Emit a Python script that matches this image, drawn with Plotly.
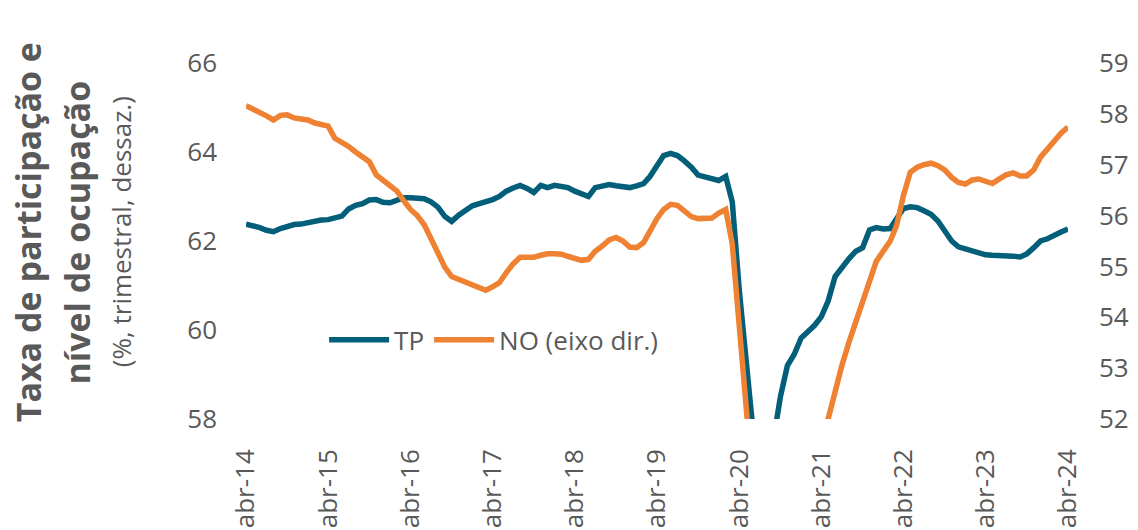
import pandas as pd
import plotly.graph_objects as go

# Monthly observations, Apr-2014 .. Apr-2024 (moving-quarter, seasonally adjusted)
months = pd.date_range("2014-04-01", periods=121, freq="MS")

# Taxa de participação (%), left axis
tp = [
    62.38, 62.35, 62.30, 62.24, 62.21, 62.28, 62.34, 62.37, 62.38, 62.42, 62.45, 62.47,
    62.48, 62.52, 62.56, 62.72, 62.80, 62.84, 62.92, 62.93, 62.87, 62.86, 62.92, 62.97,
    62.97, 62.97, 62.95, 62.88, 62.76, 62.55, 62.44, 62.58, 62.70, 62.79, 62.84, 62.88,
    62.93, 63.00, 63.12, 63.19, 63.25, 63.18, 63.09, 63.25, 63.20, 63.25, 63.22, 63.20,
    63.12, 63.05, 63.00, 63.20, 63.24, 63.27, 63.24, 63.22, 63.20, 63.24, 63.29, 63.45,
    63.72, 63.92, 63.97, 63.92, 63.80, 63.66, 63.48, 63.43, 63.38, 63.36, 63.45, 62.88,
    60.90, 59.05, 57.00, 56.20, 56.60, 57.60, 58.50, 59.20, 59.45, 59.82, 59.97, 60.10,
    60.30, 60.65, 61.20, 61.42, 61.60, 61.77, 61.85, 62.25, 62.30, 62.27, 62.28, 62.50,
    62.73, 62.77, 62.75, 62.68, 62.60, 62.45, 62.22, 62.00, 61.87, 61.82, 61.78, 61.74,
    61.69, 61.68, 61.68, 61.68, 61.66, 61.64, 61.71, 61.85, 62.00, 62.05, 62.14, 62.20,
    62.27,
]

# Nível de ocupação (%), right axis
no = [
    58.16, 58.10, 58.04, 57.96, 57.88, 57.97, 57.98, 57.92, 57.90, 57.88, 57.82, 57.78,
    57.76, 57.52, 57.45, 57.36, 57.25, 57.15, 57.06, 56.80, 56.70, 56.60, 56.48, 56.30,
    56.12, 56.00, 55.82, 55.55, 55.25, 54.98, 54.80, 54.74, 54.68, 54.62, 54.57, 54.53,
    54.60, 54.68, 54.88, 55.05, 55.18, 55.18, 55.18, 55.22, 55.25, 55.25, 55.24, 55.20,
    55.16, 55.12, 55.14, 55.30, 55.40, 55.52, 55.57, 55.50, 55.38, 55.37, 55.47, 55.70,
    55.94, 56.12, 56.22, 56.20, 56.08, 55.98, 55.94, 55.94, 55.95, 56.05, 56.12, 55.44,
    53.15, 51.10, 49.30, 48.00, 47.50, 47.60, 48.20, 48.90, 49.60, 50.30, 50.90, 51.40,
    51.65, 52.00, 52.55, 53.05, 53.50, 53.90, 54.25, 54.70, 55.10, 55.30, 55.50, 55.80,
    56.40, 56.85, 56.95, 57.00, 57.03, 56.98, 56.90, 56.75, 56.65, 56.62, 56.70, 56.72,
    56.66, 56.63, 56.72, 56.80, 56.84, 56.78, 56.78, 56.90, 57.15, 57.32, 57.45, 57.62,
    57.74,
]

tick_dates = pd.date_range("2014-04-01", "2024-04-01", freq="12MS")
tick_labels = ["abr-14", "abr-15", "abr-16", "abr-17", "abr-18", "abr-19",
               "abr-20", "abr-21", "abr-22", "abr-23", "abr-24"]

TEAL = "#035E79"
ORANGE = "#EE8132"
GREY = "#595959"
FONT = "Open Sans"

fig = go.Figure()
fig.add_trace(go.Scatter(x=months, y=tp, name="TP", mode="lines",
                         line=dict(color=TEAL, width=5.5), yaxis="y"))
fig.add_trace(go.Scatter(x=months, y=no, name="NO (eixo dir.)", mode="lines",
                         line=dict(color=ORANGE, width=5.5), yaxis="y2"))

fig.update_layout(
    width=1138, height=530,
    margin=dict(l=246, r=70, t=63, b=111),
    paper_bgcolor="white", plot_bgcolor="white",
    font=dict(family=FONT, color=GREY),
    showlegend=True,
    legend=dict(orientation="h", x=0.095, y=0.222, xanchor="left", yanchor="middle",
                font=dict(size=26, color=GREY), bgcolor="rgba(0,0,0,0)",
                itemwidth=60, tracegroupgap=0),
    xaxis=dict(range=[months[0], months[-1]], tickvals=tick_dates, ticktext=tick_labels,
               tickangle=-90, tickfont=dict(size=26, color=GREY), automargin=False,
               showgrid=False, zeroline=False, showline=False, ticks="",
               ticklabelstandoff=24),
    yaxis=dict(range=[58, 66], dtick=2, tick0=58, tickfont=dict(size=26, color=GREY),
               automargin=False,
               showgrid=False, zeroline=False, showline=False, ticks="",
               ticklabelstandoff=28),
    yaxis2=dict(range=[52, 59], dtick=1, tick0=52, overlaying="y", side="right",
                tickfont=dict(size=26, color=GREY), automargin=False,
                showgrid=False, zeroline=False, showline=False, ticks="",
                ticklabelstandoff=30),
)

# Axis title: two bold lines plus a lighter note
title_lines = [
    ("<b>Taxa de participação e</b>", 34, -0.265),
    ("<b>nível de ocupação</b>", 34, -0.205),
    ("(%, trimestral, dessaz.)", 26, -0.152),
]
for text, size, xpos in title_lines:
    fig.add_annotation(text=text, xref="paper", yref="paper", x=xpos, y=0.525,
                       xanchor="center", yanchor="middle", textangle=-90,
                       showarrow=False, font=dict(size=size, color=GREY, family=FONT))

fig.write_html("out.html")
